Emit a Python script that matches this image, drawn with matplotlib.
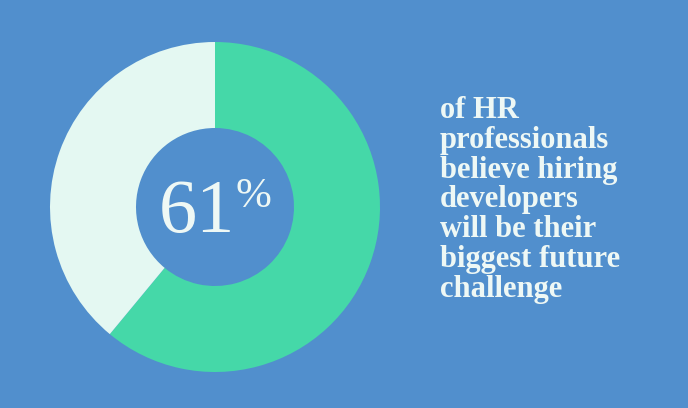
import matplotlib.pyplot as plt

# data
share = 61
values = [share, 100 - share]
colors = ['#45d8a8', '#e4f8f2']
lines = ['of HR', 'professionals', 'believe hiring', 'developers',
         'will be their', 'biggest future', 'challenge']

bg = '#518fcd'
txt = '#eef8f5'

fig = plt.figure(figsize=(6.88, 4.08), dpi=100, facecolor=bg)
ax = fig.add_axes([0, 0, 1, 1])
ax.set_facecolor(bg)
ax.set_xlim(0, 688)
ax.set_ylim(0, 408)
ax.set_aspect('equal')
ax.axis('off')

ax.pie(values, colors=colors, startangle=90, counterclock=False,
       center=(215, 201), radius=165, frame=True,
       wedgeprops=dict(width=86, linewidth=0))
ax.set_xlim(0, 688)
ax.set_ylim(0, 408)
ax.axis('off')

ax.text(197, 176, str(share), fontsize=55, family='Liberation Serif',
        color=txt, ha='center', va='baseline')
ax.text(253, 201, '%', fontsize=31, family='Liberation Serif',
        color=txt, ha='center', va='baseline')

for n, line in enumerate(lines):
    ax.text(440, 290 - n * 29.8, line, fontsize=22, family='Liberation Serif',
            weight='bold', color=txt, ha='left', va='baseline')

fig.savefig('out.png', dpi=100, facecolor=bg)
